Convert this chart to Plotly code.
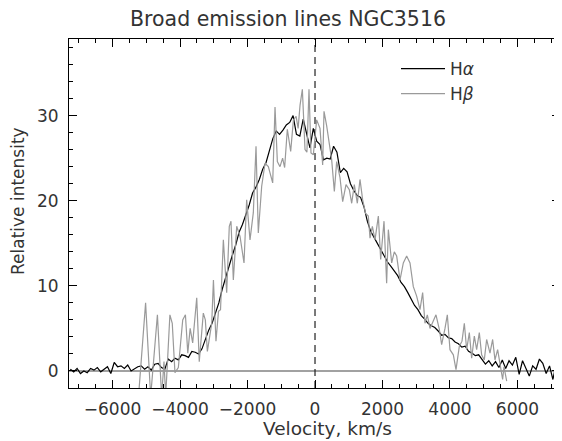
import plotly.graph_objects as go

# ---------------- data ----------------
TITLE = "Broad emission lines NGC3516"
X_LABEL = "Velocity, km/s"
Y_LABEL = "Relative intensity"
X_TICKS = [-6000, -4000, -2000, 0, 2000, 4000, 6000]
Y_TICKS = [0, 10, 20, 30]
X_RANGE = [-7290, 7260]
Y_RANGE = [-2, 39]
ZERO_VELOCITY = 0
ZERO_LEVEL = 0

HA_VEL = list(range(-7250, 7251, 100))
HA_INT = [
    0.2, -0.1, 0.3, -0.3, 0.0, -0.2, 0.3, 0.1, 0.4, -0.1,
    0.2, 0.5, -0.3, 1.0, 0.5, 0.6, 0.3, 0.7, 0.0, 0.3,
    0.5, 0.6, 0.2, 0.5, 0.1, 0.8, 0.9, 0.4, 0.2, 1.4,
    1.1, 1.5, 1.3, 1.9, 1.8, 1.6, 2.3, 2.2, 2.0, 2.6,
    3.8, 4.8, 5.6, 6.7, 8.0, 9.6, 11.0, 12.3, 13.6, 14.8,
    16.3, 17.2, 18.3, 19.5, 20.9, 21.6, 22.5, 23.7, 24.5, 25.8,
    27.3, 28.2, 27.8, 28.3, 28.9, 29.2, 30.0, 27.8, 27.6, 29.6,
    28.0, 26.2, 28.5, 27.0, 26.6, 24.8, 25.0, 24.9, 26.4, 25.7,
    23.3, 23.8, 23.4, 22.0, 21.2, 20.6, 20.4, 19.3, 17.6, 16.4,
    15.7, 15.0, 14.3, 13.6, 12.8, 12.3, 11.7, 11.2, 10.4, 9.9,
    9.2, 8.4, 7.7, 7.2, 6.5, 6.1, 5.6, 5.3, 5.1, 4.7,
    4.2, 4.3, 3.9, 3.8, 3.4, 3.2, 2.8, 2.9, 2.3, 2.1,
    1.8, 1.9, 1.4, 0.8, 1.2, 0.6, 1.1, 0.4, 1.3, 0.3,
    1.2, 0.7, 1.6, -0.4, 1.2, 0.2, -0.6, 0.6, 0.2, 1.4,
    0.9, -0.3, 0.6, -1.0, 0.9, -0.4,
]

HB_VEL = [
    -5230, -5020, -4870, -4670, -4545, -4475, -4425, -4300, -4230, -4150,
    -4050, -3920, -3840, -3770, -3700, -3625, -3505, -3430, -3310, -3250,
    -3190, -3060, -3010, -2935, -2860, -2800, -2716, -2617, -2540, -2490,
    -2420, -2320, -2222, -2104, -2025, -1926, -1828, -1748, -1680, -1580,
    -1481, -1383, -1254, -1185, -1116, -1037, -960, -900, -820, -721,
    -640, -560, -500, -444, -375, -296, -240, -178, -119, -49,
    49, 148, 227, 267, 346, 444, 494, 573, 642, 741,
    820, 919, 1017, 1087, 1165, 1254, 1333, 1412, 1500, 1580,
    1630, 1700, 1778, 1877, 1946, 2045, 2123, 2173, 2272, 2350,
    2420, 2519, 2617, 2716, 2815, 2913, 3012, 3111, 3190, 3259,
    3328, 3407, 3506, 3585, 3684, 3753, 3852, 3921, 4000, 4099,
    4178, 4277, 4356, 4425, 4494, 4573, 4642, 4721, 4790, 4869,
    4938, 5017, 5086, 5185, 5264, 5333, 5412, 5490, 5560, 5600,
    5680,
]
HB_INT = [
    -3.0, 8.0, -3.0, 6.6, -3.0, 1.1, -3.0, 6.6, 5.6, -0.2,
    0.4, 6.0, 6.6, 2.1, 5.0, 3.3, 8.6, 1.1, 6.8, 6.0,
    2.3, 5.6, 10.7, 3.5, 7.0, 7.2, 15.4, 9.2, 17.0, 17.6,
    10.7, 17.0, 15.8, 12.7, 20.1, 15.4, 18.6, 26.4, 16.2, 21.7,
    24.4, 24.0, 22.1, 31.0, 24.6, 24.0, 25.0, 23.9, 28.4, 25.8,
    29.5, 29.9, 28.5, 31.2, 33.1, 26.0, 25.7, 33.1, 25.6, 25.4,
    29.5, 28.5, 24.2, 30.5, 28.8, 26.4, 24.8, 21.1, 24.6, 22.7,
    19.9, 21.9, 21.3, 19.7, 21.9, 19.7, 22.5, 20.1, 18.5, 18.2,
    15.6, 17.0, 15.4, 18.2, 13.1, 17.6, 10.3, 16.6, 12.7, 14.0,
    13.5, 10.7, 12.7, 13.5, 12.7, 9.9, 8.8, 7.2, 9.2, 5.6,
    6.6, 5.0, 6.0, 6.6, 4.9, 3.1, 5.0, 6.6, 2.5, 1.9,
    0.15, 2.9, 3.5, 5.6, 2.5, 4.5, 1.5, 4.1, 2.5, 4.5,
    1.9, 1.3, 3.7, 2.1, 3.7, 1.3, 2.5, 0.8, -1.0, 0.5,
    -1.2,
]

# ---------------- figure ----------------
FONT = "DejaVu Sans"
TXT = "#333333"
OFF = 8  # page body margin of the html page

W, H = 562 - OFF, 441 - OFF
PL, PR, PT, PB = 69, 560, 39, 388          # plot box in page pixels
PW, PH = PR - PL, PB - PT

fig = go.Figure()
fig.add_trace(go.Scatter(
    x=HA_VEL, y=HA_INT, mode="lines", name="H<i>α</i>",
    line=dict(color="#000000", width=1.2), legendgroup="a"))
fig.add_trace(go.Scatter(
    x=HB_VEL, y=HB_INT, mode="lines", name="H<i>β</i>",
    line=dict(color="#9a9a9a", width=1.2), legendgroup="b"))

fig.add_shape(type="line", xref="paper", x0=0, x1=1, yref="y",
              y0=ZERO_LEVEL, y1=ZERO_LEVEL, layer="below",
              line=dict(color="#444444", width=1.2))
fig.add_shape(type="line", xref="x", x0=ZERO_VELOCITY, x1=ZERO_VELOCITY,
              yref="paper", y0=0, y1=1, layer="below",
              line=dict(color="#222222", width=1.2, dash="7px,5px"))

axis_common = dict(
    showgrid=False, zeroline=False, showline=True, linecolor="#000000",
    linewidth=1, mirror="ticks", ticks="inside", tickcolor="#000000",
    tickwidth=1, ticklen=8, automargin=False,
    tickfont=dict(family=FONT, size=17, color=TXT),
)
fig.update_xaxes(range=X_RANGE, tickvals=X_TICKS,
                 minor=dict(ticks="inside", ticklen=4, dtick=500, tick0=0,
                            tickcolor="#000000"),
                 ticklabelstandoff=6, **axis_common)
fig.update_yaxes(range=Y_RANGE, tickvals=Y_TICKS,
                 minor=dict(ticks="inside", ticklen=4, dtick=2, tick0=0,
                            tickcolor="#000000"),
                 ticklabelstandoff=6, **axis_common)

fig.add_annotation(text=X_LABEL, xref="paper", yref="paper",
                   x=(327 - PL) / PW, y=-(428 - PB) / PH,
                   showarrow=False, xanchor="center", yanchor="middle",
                   font=dict(family=FONT, size=18.5, color=TXT))
fig.add_annotation(text=Y_LABEL, xref="paper", yref="paper",
                   x=-(PL - 18) / PW, y=(PB - 201) / PH, textangle=-90,
                   showarrow=False, xanchor="center", yanchor="middle",
                   font=dict(family=FONT, size=17, color=TXT))

fig.update_layout(
    width=W, height=H,
    margin=dict(l=PL - OFF, r=562 - PR, t=PT - OFF, b=441 - PB),
    paper_bgcolor="white", plot_bgcolor="white",
    title=dict(text=TITLE, x=(288 - OFF) / W, xanchor="center",
               y=1 - (19 - OFF) / H, yanchor="middle",
               font=dict(family=FONT, size=20.5, color=TXT)),
    showlegend=True,
    legend=dict(x=(396 - PL) / PW, y=1 - (51 - PT) / PH,
                xanchor="left", yanchor="top", bgcolor="rgba(0,0,0,0)",
                font=dict(family=FONT, size=17, color=TXT),
                itemwidth=44, tracegroupgap=0),
)

fig.write_html("out.html")
